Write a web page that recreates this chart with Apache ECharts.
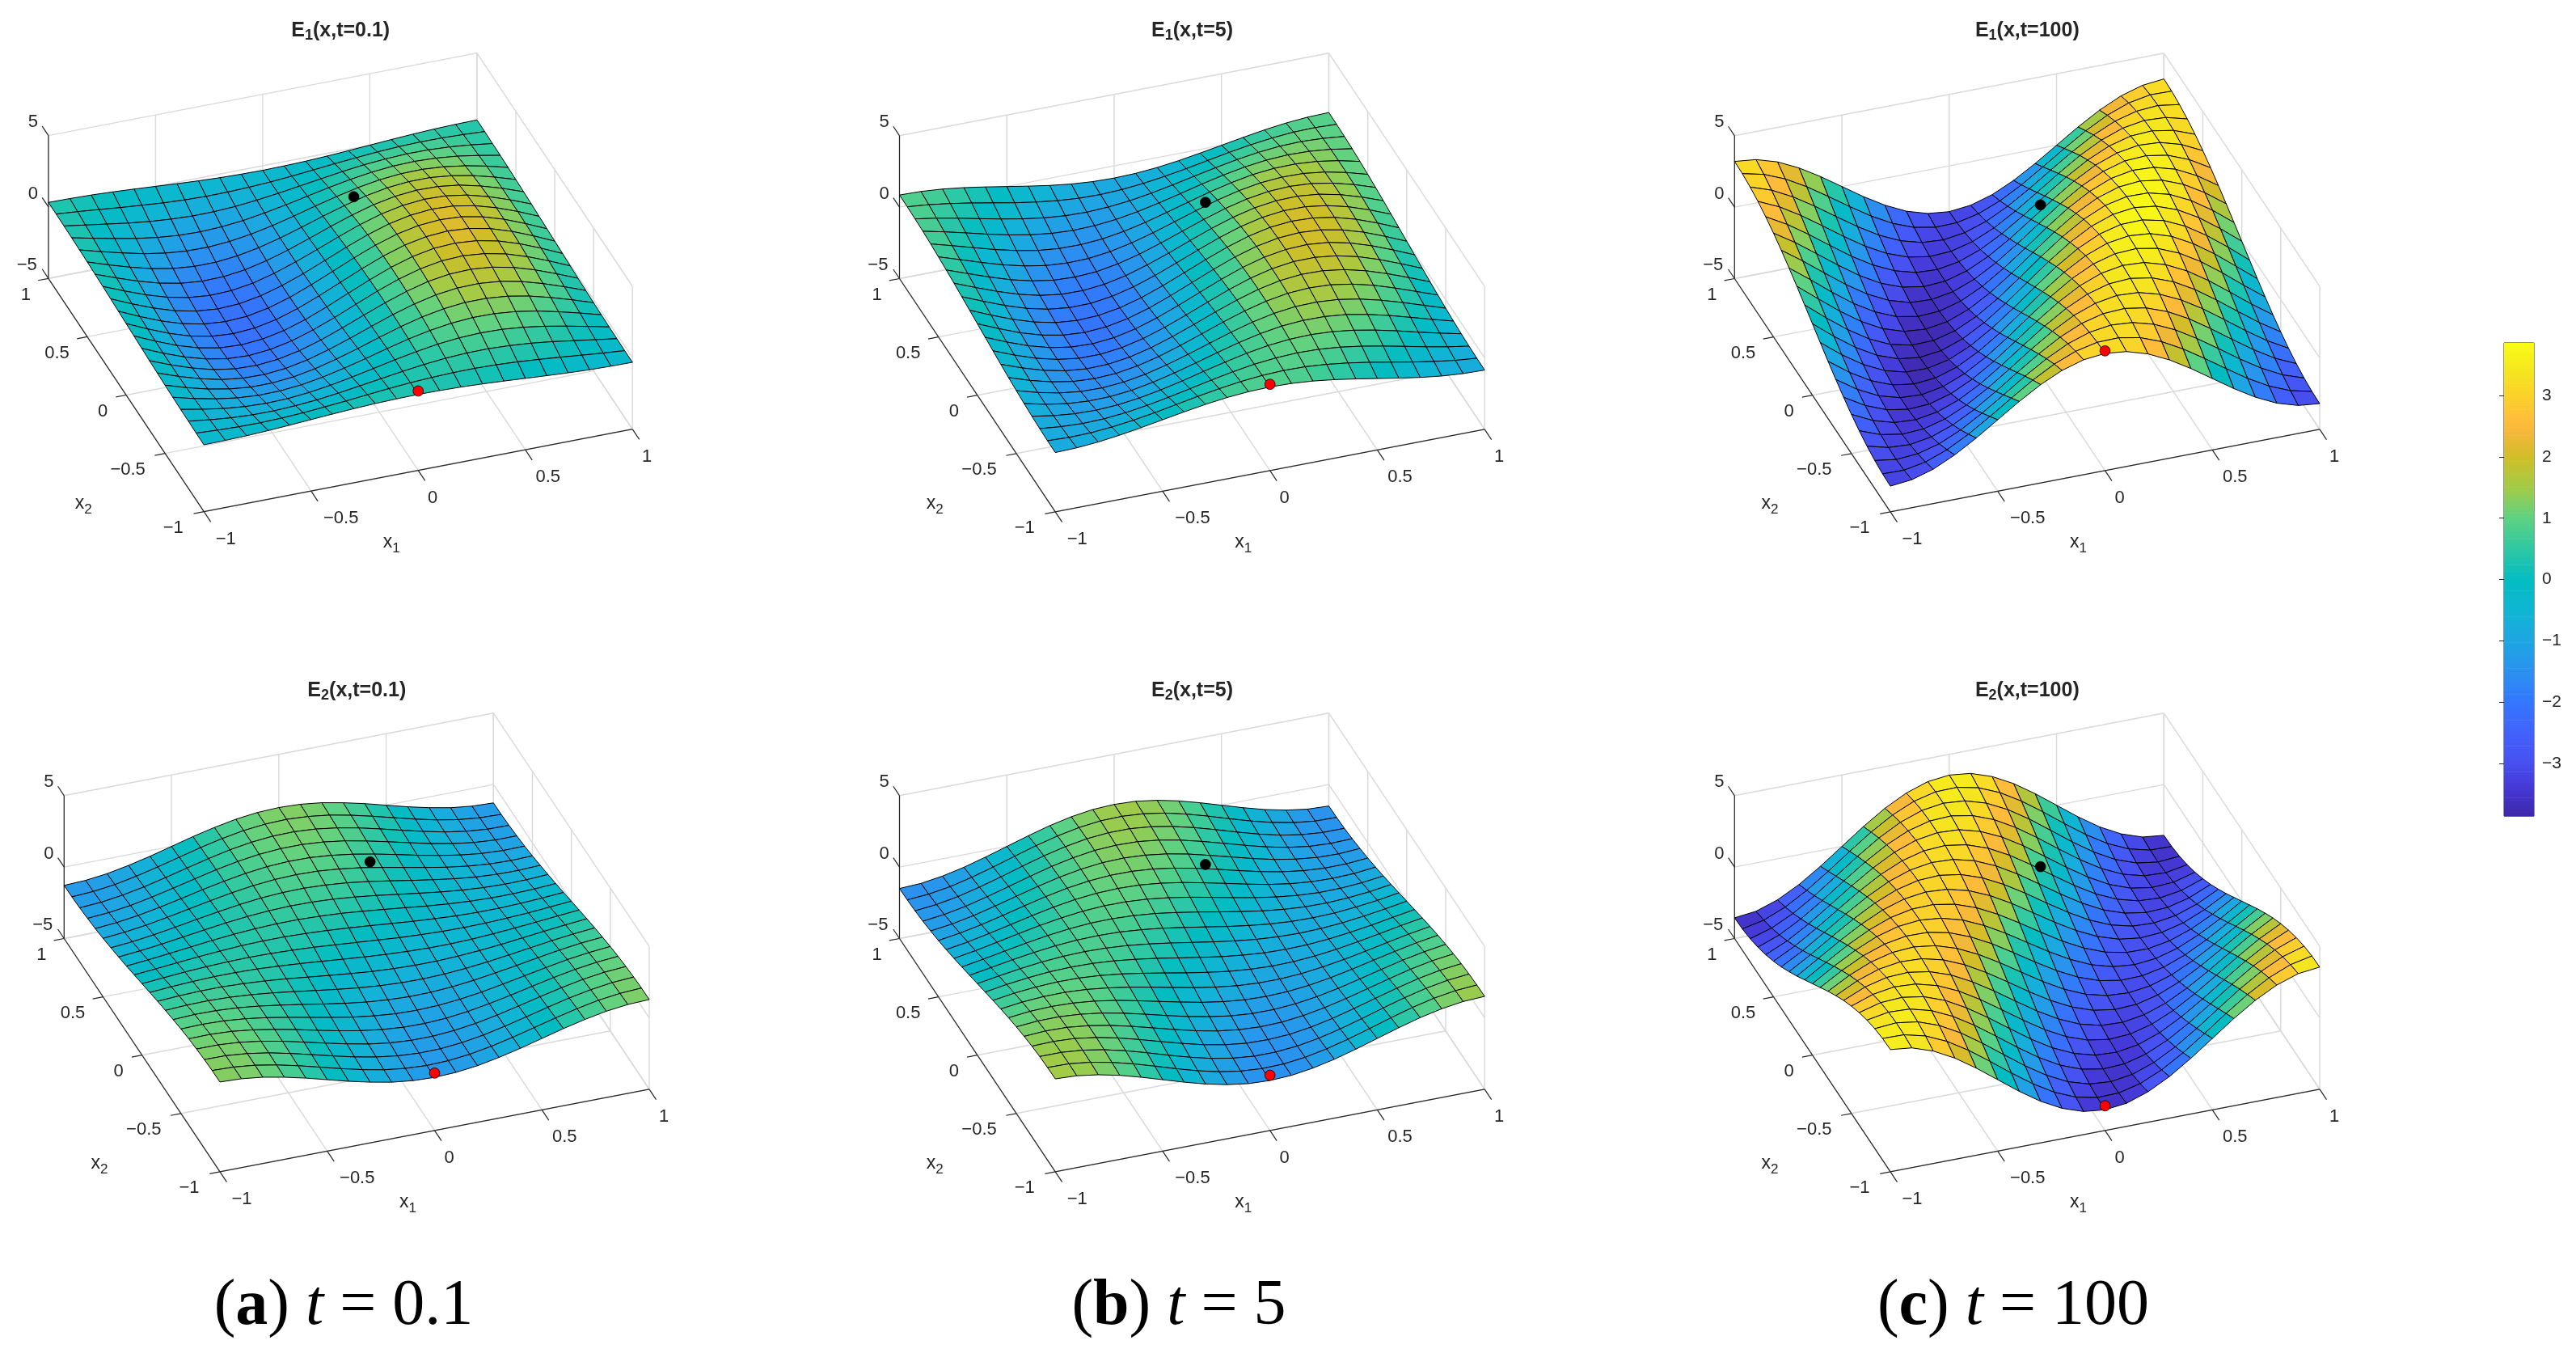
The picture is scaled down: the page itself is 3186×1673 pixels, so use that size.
<!DOCTYPE html>
<html><head><meta charset="utf-8"><style>html,body{margin:0;padding:0;background:#fff}#c{width:3186px;height:1673px}</style>
<script src="https://cdn.jsdelivr.net/npm/echarts@6/dist/echarts.min.js"></script></head><body><div id="c"></div>
<script>
const X1=[-1,-.9,-.8,-.7,-.6,-.5,-.4,-.3,-.2,-.1,0,.1,.2,.3,.4,.5,.6,.7,.8,.9,1];
const X2=[-1,-.9,-.8,-.7,-.6,-.5,-.4,-.3,-.2,-.1,0,.1,.2,.3,.4,.5,.6,.7,.8,.9,1];
const AXIS_TICKS=[-1,-.5,0,.5,1];
const Z_TICKS=[-5,0,5];
const CBAR_TICKS=[-3,-2,-1,0,1,2,3];
const TITLES=[['1','0.1'],['1','5'],['1','100'],['2','0.1'],['2','5'],['2','100']];
const BLACK_POINT=[.28,.6];
const RED_POINT=[0,-1];
const BLACK_Z=[.29,-.09,-.27,-.06,-.25,-.4];
const RED_Z=[.56,1.04,3.38,-.98,-1.13,-3.27];
const CAPTIONS=[['a','0.1'],['b','5'],['c','100']];
const E1_T01=[
[-.32,-.3,-.26,-.19,-.1,0,.1,.19,.26,.3,.32,.3,.26,.19,.1,0,-.1,-.19,-.26,-.3,-.32],
[-.32,-.4,-.45,-.46,-.42,-.34,-.22,-.09,.06,.2,.32,.4,.45,.46,.42,.34,.22,.09,-.06,-.2,-.32],
[-.3,-.49,-.64,-.72,-.73,-.66,-.54,-.36,-.14,.08,.3,.49,.64,.72,.73,.66,.54,.36,.14,-.08,-.3],
[-.29,-.57,-.81,-.96,-1.02,-.98,-.84,-.62,-.34,-.03,.29,.57,.81,.96,1.02,.98,.84,.62,.34,.03,-.29],
[-.26,-.64,-.95,-1.17,-1.28,-1.26,-1.12,-.87,-.53,-.15,.26,.64,.95,1.17,1.28,1.26,1.12,.87,.53,.15,-.26],
[-.23,-.69,-1.08,-1.36,-1.52,-1.52,-1.38,-1.1,-.71,-.26,.23,.69,1.08,1.36,1.52,1.52,1.38,1.1,.71,.26,-.23],
[-.19,-.72,-1.17,-1.52,-1.71,-1.74,-1.6,-1.3,-.87,-.36,.19,.72,1.17,1.52,1.71,1.74,1.6,1.3,.87,.36,-.19],
[-.15,-.73,-1.24,-1.64,-1.87,-1.92,-1.78,-1.47,-1.01,-.45,.15,.73,1.24,1.64,1.87,1.92,1.78,1.47,1.01,.45,-.15],
[-.1,-.73,-1.28,-1.71,-1.98,-2.05,-1.91,-1.6,-1.12,-.54,.1,.73,1.28,1.71,1.98,2.05,1.91,1.6,1.12,.54,-.1],
[-.05,-.7,-1.29,-1.75,-2.04,-2.12,-2,-1.69,-1.21,-.61,.05,.7,1.29,1.75,2.04,2.12,2,1.69,1.21,.61,-.05],
[0,-.66,-1.26,-1.74,-2.04,-2.15,-2.04,-1.74,-1.26,-.66,0,.66,1.26,1.74,2.04,2.15,2.04,1.74,1.26,.66,0],
[.05,-.61,-1.21,-1.69,-2,-2.12,-2.04,-1.75,-1.29,-.7,-.05,.61,1.21,1.69,2,2.12,2.04,1.75,1.29,.7,.05],
[.1,-.54,-1.12,-1.6,-1.91,-2.05,-1.98,-1.71,-1.28,-.73,-.1,.54,1.12,1.6,1.91,2.05,1.98,1.71,1.28,.73,.1],
[.15,-.45,-1.01,-1.47,-1.78,-1.92,-1.87,-1.64,-1.24,-.73,-.15,.45,1.01,1.47,1.78,1.92,1.87,1.64,1.24,.73,.15],
[.19,-.36,-.87,-1.3,-1.6,-1.74,-1.71,-1.52,-1.17,-.72,-.19,.36,.87,1.3,1.6,1.74,1.71,1.52,1.17,.72,.19],
[.23,-.26,-.71,-1.1,-1.38,-1.52,-1.52,-1.36,-1.08,-.69,-.23,.26,.71,1.1,1.38,1.52,1.52,1.36,1.08,.69,.23],
[.26,-.15,-.53,-.87,-1.12,-1.26,-1.28,-1.17,-.95,-.64,-.26,.15,.53,.87,1.12,1.26,1.28,1.17,.95,.64,.26],
[.29,-.03,-.34,-.62,-.84,-.98,-1.02,-.96,-.81,-.57,-.29,.03,.34,.62,.84,.98,1.02,.96,.81,.57,.29],
[.3,.08,-.14,-.36,-.54,-.66,-.73,-.72,-.64,-.49,-.3,-.08,.14,.36,.54,.66,.73,.72,.64,.49,.3],
[.32,.2,.06,-.09,-.22,-.34,-.42,-.46,-.45,-.4,-.32,-.2,-.06,.09,.22,.34,.42,.46,.45,.4,.32],
[.32,.3,.26,.19,.1,0,-.1,-.19,-.26,-.3,-.32,-.3,-.26,-.19,-.1,0,.1,.19,.26,.3,.32]];
const E1_T5=[
[-.85,-.81,-.69,-.5,-.26,0,.26,.5,.69,.81,.85,.81,.69,.5,.26,0,-.26,-.5,-.69,-.81,-.85],
[-.84,-.9,-.87,-.75,-.56,-.32,-.04,.24,.49,.7,.84,.9,.87,.75,.56,.32,.04,-.24,-.49,-.7,-.84],
[-.81,-.96,-1.03,-.99,-.85,-.63,-.35,-.04,.28,.57,.81,.96,1.03,.99,.85,.63,.35,.04,-.28,-.57,-.81],
[-.76,-1.01,-1.16,-1.2,-1.12,-.93,-.65,-.31,.07,.43,.76,1.01,1.16,1.2,1.12,.93,.65,.31,-.07,-.43,-.76],
[-.69,-1.03,-1.27,-1.38,-1.36,-1.21,-.93,-.57,-.15,.28,.69,1.03,1.27,1.38,1.36,1.21,.93,.57,.15,-.28,-.69],
[-.6,-1.02,-1.34,-1.53,-1.56,-1.45,-1.19,-.82,-.37,.12,.6,1.02,1.34,1.53,1.56,1.45,1.19,.82,.37,-.12,-.6],
[-.5,-.99,-1.38,-1.64,-1.73,-1.66,-1.42,-1.05,-.57,-.04,.5,.99,1.38,1.64,1.73,1.66,1.42,1.05,.57,.04,-.5],
[-.39,-.93,-1.39,-1.71,-1.86,-1.83,-1.62,-1.25,-.76,-.2,.39,.93,1.39,1.71,1.86,1.83,1.62,1.25,.76,.2,-.39],
[-.26,-.85,-1.36,-1.73,-1.94,-1.95,-1.77,-1.42,-.93,-.35,.26,.85,1.36,1.73,1.94,1.95,1.77,1.42,.93,.35,-.26],
[-.13,-.75,-1.3,-1.72,-1.97,-2.03,-1.89,-1.56,-1.08,-.5,.13,.75,1.3,1.72,1.97,2.03,1.89,1.56,1.08,.5,-.13],
[0,-.63,-1.21,-1.66,-1.95,-2.05,-1.95,-1.66,-1.21,-.63,0,.63,1.21,1.66,1.95,2.05,1.95,1.66,1.21,.63,0],
[.13,-.5,-1.08,-1.56,-1.89,-2.03,-1.97,-1.72,-1.3,-.75,-.13,.5,1.08,1.56,1.89,2.03,1.97,1.72,1.3,.75,.13],
[.26,-.35,-.93,-1.42,-1.77,-1.95,-1.94,-1.73,-1.36,-.85,-.26,.35,.93,1.42,1.77,1.95,1.94,1.73,1.36,.85,.26],
[.39,-.2,-.76,-1.25,-1.62,-1.83,-1.86,-1.71,-1.39,-.93,-.39,.2,.76,1.25,1.62,1.83,1.86,1.71,1.39,.93,.39],
[.5,-.04,-.57,-1.05,-1.42,-1.66,-1.73,-1.64,-1.38,-.99,-.5,.04,.57,1.05,1.42,1.66,1.73,1.64,1.38,.99,.5],
[.6,.12,-.37,-.82,-1.19,-1.45,-1.56,-1.53,-1.34,-1.02,-.6,-.12,.37,.82,1.19,1.45,1.56,1.53,1.34,1.02,.6],
[.69,.28,-.15,-.57,-.93,-1.21,-1.36,-1.38,-1.27,-1.03,-.69,-.28,.15,.57,.93,1.21,1.36,1.38,1.27,1.03,.69],
[.76,.43,.07,-.31,-.65,-.93,-1.12,-1.2,-1.16,-1.01,-.76,-.43,-.07,.31,.65,.93,1.12,1.2,1.16,1.01,.76],
[.81,.57,.28,-.04,-.35,-.63,-.85,-.99,-1.03,-.96,-.81,-.57,-.28,.04,.35,.63,.85,.99,1.03,.96,.81],
[.84,.7,.49,.24,-.04,-.32,-.56,-.75,-.87,-.9,-.84,-.7,-.49,-.24,.04,.32,.56,.75,.87,.9,.84],
[.85,.81,.69,.5,.26,0,-.26,-.5,-.69,-.81,-.85,-.81,-.69,-.5,-.26,0,.26,.5,.69,.81,.85]];
const E1_T100=[
[-3.2,-3.04,-2.59,-1.88,-.99,0,.99,1.88,2.59,3.04,3.2,3.04,2.59,1.88,.99,0,-.99,-1.88,-2.59,-3.04,-3.2],
[-3.16,-3.19,-2.91,-2.34,-1.54,-.59,.41,1.38,2.21,2.82,3.16,3.19,2.91,2.34,1.54,.59,-.41,-1.38,-2.21,-2.82,-3.16],
[-3.04,-3.26,-3.15,-2.74,-2.06,-1.17,-.18,.84,1.77,2.53,3.04,3.26,3.15,2.74,2.06,1.17,.18,-.84,-1.77,-2.53,-3.04],
[-2.85,-3.24,-3.32,-3.07,-2.52,-1.73,-.76,.28,1.29,2.18,2.85,3.24,3.32,3.07,2.52,1.73,.76,-.28,-1.29,-2.18,-2.85],
[-2.59,-3.15,-3.41,-3.33,-2.92,-2.23,-1.33,-.29,.78,1.77,2.59,3.15,3.41,3.33,2.92,2.23,1.33,.29,-.78,-1.77,-2.59],
[-2.26,-2.98,-3.41,-3.5,-3.25,-2.69,-1.86,-.84,.25,1.32,2.26,2.98,3.41,3.5,3.25,2.69,1.86,.84,-.25,-1.32,-2.26],
[-1.88,-2.74,-3.33,-3.59,-3.51,-3.07,-2.34,-1.38,-.28,.84,1.88,2.74,3.33,3.59,3.51,3.07,2.34,1.38,.28,-.84,-1.88],
[-1.45,-2.43,-3.17,-3.59,-3.67,-3.39,-2.77,-1.89,-.82,.34,1.45,2.43,3.17,3.59,3.67,3.39,2.77,1.89,.82,-.34,-1.45],
[-.99,-2.06,-2.93,-3.51,-3.74,-3.61,-3.13,-2.34,-1.33,-.18,.99,2.06,2.93,3.51,3.74,3.61,3.13,2.34,1.33,.18,-.99],
[-.5,-1.64,-2.61,-3.33,-3.72,-3.75,-3.42,-2.74,-1.8,-.69,.5,1.64,2.61,3.33,3.72,3.75,3.42,2.74,1.8,.69,-.5],
[0,-1.17,-2.23,-3.07,-3.61,-3.8,-3.61,-3.07,-2.23,-1.17,0,1.17,2.23,3.07,3.61,3.8,3.61,3.07,2.23,1.17,0],
[.5,-.69,-1.8,-2.74,-3.42,-3.75,-3.72,-3.33,-2.61,-1.64,-.5,.69,1.8,2.74,3.42,3.75,3.72,3.33,2.61,1.64,.5],
[.99,-.18,-1.33,-2.34,-3.13,-3.61,-3.74,-3.51,-2.93,-2.06,-.99,.18,1.33,2.34,3.13,3.61,3.74,3.51,2.93,2.06,.99],
[1.45,.34,-.82,-1.89,-2.77,-3.39,-3.67,-3.59,-3.17,-2.43,-1.45,-.34,.82,1.89,2.77,3.39,3.67,3.59,3.17,2.43,1.45],
[1.88,.84,-.28,-1.38,-2.34,-3.07,-3.51,-3.59,-3.33,-2.74,-1.88,-.84,.28,1.38,2.34,3.07,3.51,3.59,3.33,2.74,1.88],
[2.26,1.32,.25,-.84,-1.86,-2.69,-3.25,-3.5,-3.41,-2.98,-2.26,-1.32,-.25,.84,1.86,2.69,3.25,3.5,3.41,2.98,2.26],
[2.59,1.77,.78,-.29,-1.33,-2.23,-2.92,-3.33,-3.41,-3.15,-2.59,-1.77,-.78,.29,1.33,2.23,2.92,3.33,3.41,3.15,2.59],
[2.85,2.18,1.29,.28,-.76,-1.73,-2.52,-3.07,-3.32,-3.24,-2.85,-2.18,-1.29,-.28,.76,1.73,2.52,3.07,3.32,3.24,2.85],
[3.04,2.53,1.77,.84,-.18,-1.17,-2.06,-2.74,-3.15,-3.26,-3.04,-2.53,-1.77,-.84,.18,1.17,2.06,2.74,3.15,3.26,3.04],
[3.16,2.82,2.21,1.38,.41,-.59,-1.54,-2.34,-2.91,-3.19,-3.16,-2.82,-2.21,-1.38,-.41,.59,1.54,2.34,2.91,3.19,3.16],
[3.2,3.04,2.59,1.88,.99,0,-.99,-1.88,-2.59,-3.04,-3.2,-3.04,-2.59,-1.88,-.99,0,.99,1.88,2.59,3.04,3.2]];
const E2_T01=[
[1.28,1.22,1.04,.75,.4,0,-.4,-.75,-1.04,-1.22,-1.28,-1.22,-1.04,-.75,-.4,0,.4,.75,1.04,1.22,1.28],
[1.27,1.22,1.06,.79,.45,.06,-.33,-.69,-.99,-1.18,-1.27,-1.22,-1.06,-.79,-.45,-.06,.33,.69,.99,1.18,1.27],
[1.22,1.2,1.06,.82,.49,.12,-.26,-.62,-.91,-1.12,-1.22,-1.2,-1.06,-.82,-.49,-.12,.26,.62,.91,1.12,1.22],
[1.14,1.14,1.03,.82,.53,.18,-.18,-.52,-.82,-1.03,-1.14,-1.14,-1.03,-.82,-.53,-.18,.18,.52,.82,1.03,1.14],
[1.04,1.06,.98,.8,.54,.24,-.1,-.42,-.7,-.91,-1.04,-1.06,-.98,-.8,-.54,-.24,.1,.42,.7,.91,1.04],
[.91,.95,.9,.76,.55,.28,-.01,-.3,-.57,-.77,-.91,-.95,-.9,-.76,-.55,-.28,.01,.3,.57,.77,.91],
[.75,.82,.8,.71,.54,.32,.08,-.18,-.42,-.62,-.75,-.82,-.8,-.71,-.54,-.32,-.08,.18,.42,.62,.75],
[.58,.66,.68,.63,.52,.36,.16,-.05,-.26,-.44,-.58,-.66,-.68,-.63,-.52,-.36,-.16,.05,.26,.44,.58],
[.4,.49,.54,.54,.48,.38,.24,.07,-.1,-.26,-.4,-.49,-.54,-.54,-.48,-.38,-.24,-.07,.1,.26,.4],
[.2,.31,.39,.44,.44,.4,.31,.2,.07,-.07,-.2,-.31,-.39,-.44,-.44,-.4,-.31,-.2,-.07,.07,.2],
[0,.12,.24,.32,.38,.4,.38,.32,.24,.12,0,-.12,-.24,-.32,-.38,-.4,-.38,-.32,-.24,-.12,0],
[-.2,-.07,.07,.2,.31,.4,.44,.44,.39,.31,.2,.07,-.07,-.2,-.31,-.4,-.44,-.44,-.39,-.31,-.2],
[-.4,-.26,-.1,.07,.24,.38,.48,.54,.54,.49,.4,.26,.1,-.07,-.24,-.38,-.48,-.54,-.54,-.49,-.4],
[-.58,-.44,-.26,-.05,.16,.36,.52,.63,.68,.66,.58,.44,.26,.05,-.16,-.36,-.52,-.63,-.68,-.66,-.58],
[-.75,-.62,-.42,-.18,.08,.32,.54,.71,.8,.82,.75,.62,.42,.18,-.08,-.32,-.54,-.71,-.8,-.82,-.75],
[-.91,-.77,-.57,-.3,-.01,.28,.55,.76,.9,.95,.91,.77,.57,.3,.01,-.28,-.55,-.76,-.9,-.95,-.91],
[-1.04,-.91,-.7,-.42,-.1,.24,.54,.8,.98,1.06,1.04,.91,.7,.42,.1,-.24,-.54,-.8,-.98,-1.06,-1.04],
[-1.14,-1.03,-.82,-.52,-.18,.18,.53,.82,1.03,1.14,1.14,1.03,.82,.52,.18,-.18,-.53,-.82,-1.03,-1.14,-1.14],
[-1.22,-1.12,-.91,-.62,-.26,.12,.49,.82,1.06,1.2,1.22,1.12,.91,.62,.26,-.12,-.49,-.82,-1.06,-1.2,-1.22],
[-1.27,-1.18,-.99,-.69,-.33,.06,.45,.79,1.06,1.22,1.27,1.18,.99,.69,.33,-.06,-.45,-.79,-1.06,-1.22,-1.27],
[-1.28,-1.22,-1.04,-.75,-.4,0,.4,.75,1.04,1.22,1.28,1.22,1.04,.75,.4,0,-.4,-.75,-1.04,-1.22,-1.28]];
const E2_T5=[
[1.5,1.43,1.21,.88,.46,0,-.46,-.88,-1.21,-1.43,-1.5,-1.43,-1.21,-.88,-.46,0,.46,.88,1.21,1.43,1.5],
[1.48,1.45,1.27,.97,.58,.13,-.34,-.77,-1.13,-1.37,-1.48,-1.45,-1.27,-.97,-.58,-.13,.34,.77,1.13,1.37,1.48],
[1.43,1.43,1.3,1.04,.68,.25,-.21,-.64,-1.01,-1.28,-1.43,-1.43,-1.3,-1.04,-.68,-.25,.21,.64,1.01,1.28,1.43],
[1.34,1.38,1.3,1.08,.76,.36,-.07,-.49,-.87,-1.16,-1.34,-1.38,-1.3,-1.08,-.76,-.36,.07,.49,.87,1.16,1.34],
[1.21,1.3,1.26,1.09,.82,.47,.07,-.33,-.71,-1.01,-1.21,-1.3,-1.26,-1.09,-.82,-.47,-.07,.33,.71,1.01,1.21],
[1.06,1.18,1.19,1.08,.87,.57,.21,-.17,-.53,-.83,-1.06,-1.18,-1.19,-1.08,-.87,-.57,-.21,.17,.53,.83,1.06],
[.88,1.04,1.09,1.04,.89,.65,.34,0,-.33,-.64,-.88,-1.04,-1.09,-1.04,-.89,-.65,-.34,0,.33,.64,.88],
[.68,.87,.97,.98,.89,.71,.47,.18,-.13,-.43,-.68,-.87,-.97,-.98,-.89,-.71,-.47,-.18,.13,.43,.68],
[.46,.68,.82,.89,.87,.76,.58,.34,.07,-.21,-.46,-.68,-.82,-.89,-.87,-.76,-.58,-.34,-.07,.21,.46],
[.23,.47,.65,.78,.82,.79,.68,.5,.28,.02,-.23,-.47,-.65,-.78,-.82,-.79,-.68,-.5,-.28,-.02,.23],
[0,.25,.47,.65,.76,.8,.76,.65,.47,.25,0,-.25,-.47,-.65,-.76,-.8,-.76,-.65,-.47,-.25,0],
[-.23,.02,.28,.5,.68,.79,.82,.78,.65,.47,.23,-.02,-.28,-.5,-.68,-.79,-.82,-.78,-.65,-.47,-.23],
[-.46,-.21,.07,.34,.58,.76,.87,.89,.82,.68,.46,.21,-.07,-.34,-.58,-.76,-.87,-.89,-.82,-.68,-.46],
[-.68,-.43,-.13,.18,.47,.71,.89,.98,.97,.87,.68,.43,.13,-.18,-.47,-.71,-.89,-.98,-.97,-.87,-.68],
[-.88,-.64,-.33,0,.34,.65,.89,1.04,1.09,1.04,.88,.64,.33,0,-.34,-.65,-.89,-1.04,-1.09,-1.04,-.88],
[-1.06,-.83,-.53,-.17,.21,.57,.87,1.08,1.19,1.18,1.06,.83,.53,.17,-.21,-.57,-.87,-1.08,-1.19,-1.18,-1.06],
[-1.21,-1.01,-.71,-.33,.07,.47,.82,1.09,1.26,1.3,1.21,1.01,.71,.33,-.07,-.47,-.82,-1.09,-1.26,-1.3,-1.21],
[-1.34,-1.16,-.87,-.49,-.07,.36,.76,1.08,1.3,1.38,1.34,1.16,.87,.49,.07,-.36,-.76,-1.08,-1.3,-1.38,-1.34],
[-1.43,-1.28,-1.01,-.64,-.21,.25,.68,1.04,1.3,1.43,1.43,1.28,1.01,.64,.21,-.25,-.68,-1.04,-1.3,-1.43,-1.43],
[-1.48,-1.37,-1.13,-.77,-.34,.13,.58,.97,1.27,1.45,1.48,1.37,1.13,.77,.34,-.13,-.58,-.97,-1.27,-1.45,-1.48],
[-1.5,-1.43,-1.21,-.88,-.46,0,.46,.88,1.21,1.43,1.5,1.43,1.21,.88,.46,0,-.46,-.88,-1.21,-1.43,-1.5]];
const E2_T100=[
[3.55,3.38,2.87,2.09,1.1,0,-1.1,-2.09,-2.87,-3.38,-3.55,-3.38,-2.87,-2.09,-1.1,0,1.1,2.09,2.87,3.38,3.55],
[3.51,3.48,3.11,2.44,1.53,.47,-.64,-1.68,-2.56,-3.19,-3.51,-3.48,-3.11,-2.44,-1.53,-.47,.64,1.68,2.56,3.19,3.51],
[3.38,3.5,3.28,2.74,1.93,.93,-.16,-1.24,-2.19,-2.93,-3.38,-3.5,-3.28,-2.74,-1.93,-.93,.16,1.24,2.19,2.93,3.38],
[3.16,3.43,3.36,2.96,2.27,1.36,.32,-.76,-1.76,-2.59,-3.16,-3.43,-3.36,-2.96,-2.27,-1.36,-.32,.76,1.76,2.59,3.16],
[2.87,3.28,3.36,3.12,2.57,1.76,.79,-.26,-1.29,-2.19,-2.87,-3.28,-3.36,-3.12,-2.57,-1.76,-.79,.26,1.29,2.19,2.87],
[2.51,3.04,3.28,3.19,2.79,2.12,1.24,.24,-.78,-1.73,-2.51,-3.04,-3.28,-3.19,-2.79,-2.12,-1.24,-.24,.78,1.73,2.51],
[2.09,2.74,3.12,3.19,2.95,2.43,1.66,.74,-.26,-1.24,-2.09,-2.74,-3.12,-3.19,-2.95,-2.43,-1.66,-.74,.26,1.24,2.09],
[1.61,2.36,2.88,3.11,3.04,2.67,2.04,1.21,.27,-.71,-1.61,-2.36,-2.88,-3.11,-3.04,-2.67,-2.04,-1.21,-.27,.71,1.61],
[1.1,1.93,2.57,2.95,3.05,2.85,2.37,1.66,.79,-.16,-1.1,-1.93,-2.57,-2.95,-3.05,-2.85,-2.37,-1.66,-.79,.16,1.1],
[.55,1.44,2.19,2.72,2.99,2.96,2.65,2.07,1.3,.39,-.55,-1.44,-2.19,-2.72,-2.99,-2.96,-2.65,-2.07,-1.3,-.39,.55],
[0,.93,1.76,2.43,2.85,3,2.85,2.43,1.76,.93,0,-.93,-1.76,-2.43,-2.85,-3,-2.85,-2.43,-1.76,-.93,0],
[-.55,.39,1.3,2.07,2.65,2.96,2.99,2.72,2.19,1.44,.55,-.39,-1.3,-2.07,-2.65,-2.96,-2.99,-2.72,-2.19,-1.44,-.55],
[-1.1,-.16,.79,1.66,2.37,2.85,3.05,2.95,2.57,1.93,1.1,.16,-.79,-1.66,-2.37,-2.85,-3.05,-2.95,-2.57,-1.93,-1.1],
[-1.61,-.71,.27,1.21,2.04,2.67,3.04,3.11,2.88,2.36,1.61,.71,-.27,-1.21,-2.04,-2.67,-3.04,-3.11,-2.88,-2.36,-1.61],
[-2.09,-1.24,-.26,.74,1.66,2.43,2.95,3.19,3.12,2.74,2.09,1.24,.26,-.74,-1.66,-2.43,-2.95,-3.19,-3.12,-2.74,-2.09],
[-2.51,-1.73,-.78,.24,1.24,2.12,2.79,3.19,3.28,3.04,2.51,1.73,.78,-.24,-1.24,-2.12,-2.79,-3.19,-3.28,-3.04,-2.51],
[-2.87,-2.19,-1.29,-.26,.79,1.76,2.57,3.12,3.36,3.28,2.87,2.19,1.29,.26,-.79,-1.76,-2.57,-3.12,-3.36,-3.28,-2.87],
[-3.16,-2.59,-1.76,-.76,.32,1.36,2.27,2.96,3.36,3.43,3.16,2.59,1.76,.76,-.32,-1.36,-2.27,-2.96,-3.36,-3.43,-3.16],
[-3.38,-2.93,-2.19,-1.24,-.16,.93,1.93,2.74,3.28,3.5,3.38,2.93,2.19,1.24,.16,-.93,-1.93,-2.74,-3.28,-3.5,-3.38],
[-3.51,-3.19,-2.56,-1.68,-.64,.47,1.53,2.44,3.11,3.48,3.51,3.19,2.56,1.68,.64,-.47,-1.53,-2.44,-3.11,-3.48,-3.51],
[-3.55,-3.38,-2.87,-2.09,-1.1,0,1.1,2.09,2.87,3.38,3.55,3.38,2.87,2.09,1.1,0,-1.1,-2.09,-2.87,-3.38,-3.55]];
const SURFACES=[E1_T01,E1_T5,E1_T100,E2_T01,E2_T5,E2_T100];

// ---- style & layout ----
const SANS='"Liberation Sans",Arial,sans-serif', SERIF='"Liberation Serif",serif';
const INK='#262626', GRIDC='#d9d9d9';
const ANCHORS=[[58.3,344.3],[1112.5,344.5],[2145.3,344.5],[79.3,1160.5],[1112.5,1160.5],[2145.3,1160.5]];
const AX={u:265.5,v:-51},BX={u:-96.35,v:-144.2},CZ={u:0,v:-17.67};
const PAD_L=60,PAD_T=344,GW=900,GH=720;
const project=(a,b,c)=>[(a+1)*AX.u+(b-1)*BX.u+(c+5)*CZ.u,(a+1)*AX.v+(b-1)*BX.v+(c+5)*CZ.v];
const STOPS=[[-3.86,[62,38,168]],[-3.4,[69,56,214]],[-3,[71,80,240]],[-2.5,[66,98,253]],[-2,[51,119,254]],[-1.5,[43,145,239]],[-1,[30,166,226]],[-.5,[15,182,211]],[0,[3,188,194]],[.5,[46,200,164]],[1,[94,210,131]],[1.5,[162,203,71]],[2,[207,190,39]],[2.4,[245,184,58]],[2.6,[255,188,58]],[3,[250,210,42]],[3.4,[245,230,31]],[3.86,[249,251,21]]];
function colorOf(z){
  if(z<=STOPS[0][0])return `rgb(${STOPS[0][1]})`;
  for(let k=1;k<STOPS.length;k++){if(z<=STOPS[k][0]){const[a,ca]=STOPS[k-1],[b,cb]=STOPS[k],t=(z-a)/(b-a);
    return `rgb(${ca.map((v,n)=>Math.round(v+(cb[n]-v)*t)).join(',')})`;}}
  return `rgb(${STOPS[STOPS.length-1][1]})`;
}
const fmt=v=>String(v).replace('-','\u2212');
const X1_LBL_DX=[27,37,18,28,18],X2_LBL_DX=[-38,-46,-29,-37.5,-28],Z_LBL_DX=[-26.6,-19,-19];

const frameRows=[];
AXIS_TICKS.forEach(t=>{
  frameRows.push([t,-1,-5,t,1,-5,0],[-1,t,-5,1,t,-5,0]);
  frameRows.push([t,1,-5,t,1,5,0],[1,t,-5,1,t,5,0]);
  frameRows.push([t,-1,-5,t,-1.088,-5,1],[-1,t,-5,-1.048,t,-5,1]);
});
Z_TICKS.forEach(z=>{frameRows.push([-1,1,z,1,1,z,0],[1,-1,z,1,1,z,0],[-1,1,z,-1,1.08,z,1]);});
frameRows.push([-1,-1,-5,1,-1,-5,1],[-1,-1,-5,-1,1,-5,1],[-1,1,-5,-1,1,5,1]);

const tickText=[];
AXIS_TICKS.forEach((t,k)=>{
  tickText.push([t,-1,-5,X1_LBL_DX[k],34,fmt(t)]);
  tickText.push([-1,t,-5,X2_LBL_DX[k],20.5,fmt(t)]);
});
Z_TICKS.forEach((z,k)=>tickText.push([-1,1,z,Z_LBL_DX[k],-16.5,fmt(z)]));

const grid=[],xAxis=[],yAxis=[],series=[];
ANCHORS.forEach((p,n)=>{
  grid.push({left:p[0]-PAD_L,top:p[1]-PAD_T,width:GW,height:GH,show:false});
  xAxis.push({type:'value',gridIndex:n,min:-PAD_L,max:GW-PAD_L,show:false});
  yAxis.push({type:'value',gridIndex:n,min:-PAD_T,max:GH-PAD_T,inverse:true,show:false});
  const base={type:'custom',xAxisIndex:n,yAxisIndex:n,silent:true,clip:false,animation:false,progressive:0};
  series.push({...base,z:1,data:frameRows,renderItem:(q,api)=>{
    const a=api.coord(project(api.value(0),api.value(1),api.value(2))),b=api.coord(project(api.value(3),api.value(4),api.value(5))),ax=api.value(6);
    return {type:'line',shape:{x1:a[0],y1:a[1],x2:b[0],y2:b[1]},style:{stroke:ax?INK:GRIDC,lineWidth:ax?1.2:1.4}};
  }});
  const Z=SURFACES[n],cells=[];
  for(let j=X2.length-2;j>=0;j--)for(let i=X1.length-2;i>=0;i--)
    cells.push([X1[i],X1[i+1],X2[j],X2[j+1],Z[j][i],Z[j][i+1],Z[j+1][i+1],Z[j+1][i]]);
  series.push({...base,z:2,data:cells,renderItem:(q,api)=>{
    const x0=api.value(0),x1=api.value(1),y0=api.value(2),y1=api.value(3);
    const pts=[[x0,y0,4],[x1,y0,5],[x1,y1,6],[x0,y1,7]].map(r=>api.coord(project(r[0],r[1],api.value(r[2]))));
    return {type:'polygon',shape:{points:pts},style:{fill:colorOf(api.value(4)),stroke:'#000',lineWidth:1}};
  }});
  series.push({...base,z:3,data:[[BLACK_POINT[0],BLACK_POINT[1],BLACK_Z[n],0],[RED_POINT[0],RED_POINT[1],RED_Z[n],1]],renderItem:(q,api)=>{
    const c=api.coord(project(api.value(0),api.value(1),api.value(2)));
    return {type:'circle',shape:{cx:c[0],cy:c[1],r:6.4},style:{fill:api.value(3)?'#f00':'#000',stroke:'#000',lineWidth:.8}};
  }});
  series.push({...base,z:4,data:tickText.map(r=>r.slice(0,5)),renderItem:(q,api)=>{
    const c=api.coord(project(api.value(0),api.value(1),api.value(2)));
    return {type:'text',x:c[0]+api.value(3),y:c[1]+api.value(4),style:{text:tickText[q.dataIndex][5],fontFamily:SANS,fontSize:22,fill:INK,align:'center',verticalAlign:'middle'}};
  }});
  const lab=(t,s)=>`{m|${t}}{s|${s}}`;
  const rich={m:{fontFamily:SANS,fontSize:23,fill:INK,lineHeight:32},s:{fontFamily:SANS,fontSize:17,fill:INK,lineHeight:18,verticalAlign:'bottom'}};
  series.push({...base,z:4,data:[[0,-1,-5,-33,89,0],[-1,-1,-5,-149,-10,1]],renderItem:(q,api)=>{
    const c=api.coord(project(api.value(0),api.value(1),api.value(2)));
    return {type:'text',x:c[0]+api.value(3),y:c[1]+api.value(4),style:{text:lab('x',api.value(5)?'2':'1'),rich,align:'center',verticalAlign:'middle'}};
  }});
  const tr={t:{fontFamily:SANS,fontWeight:'bold',fontSize:25,fill:INK,lineHeight:30},u:{fontFamily:SANS,fontWeight:'bold',fontSize:18,fill:INK,lineHeight:16,verticalAlign:'bottom'}};
  series.push({...base,z:4,data:[[0,1,5,0,0]],renderItem:(q,api)=>{
    const c=api.coord([362,-306]);
    return {type:'text',x:c[0],y:c[1],style:{text:`{t|E}{u|${TITLES[n][0]}}{t|(x,t=${TITLES[n][1]})}`,rich:tr,align:'center',verticalAlign:'middle'}};
  }});
});
// colour bar
const CB=6,CB_MIN=-3.86,CB_MAX=3.86;
grid.push({left:3097,top:424,width:37,height:585,show:true,borderColor:INK,borderWidth:1,backgroundColor:'transparent'});
xAxis.push({type:'value',gridIndex:CB,min:0,max:1,show:false});
yAxis.push({type:'value',gridIndex:CB,min:CB_MIN,max:CB_MAX,position:'right',axisLine:{show:true,lineStyle:{color:'#777',width:1}},splitLine:{show:false},
  axisTick:{show:true,inside:true,length:6,customValues:CBAR_TICKS,lineStyle:{color:INK,width:1}},
  axisLabel:{show:true,customValues:CBAR_TICKS,margin:10,fontFamily:SANS,fontSize:21,color:INK,formatter:v=>fmt(v)}});
const levels=[];for(let k=0;k<128;k++)levels.push([0,CB_MIN+(CB_MAX-CB_MIN)*k/128,CB_MIN+(CB_MAX-CB_MIN)*(k+1)/128]);
series.push({type:'custom',xAxisIndex:CB,yAxisIndex:CB,silent:true,animation:false,z:1,data:levels,encode:{x:0,y:1},renderItem:(q,api)=>{
  const a=api.coord([0,api.value(1)]),b=api.coord([1,api.value(2)]);
  return {type:'rect',shape:{x:a[0],y:b[1],width:b[0]-a[0],height:a[1]-b[1]+.6},style:{fill:colorOf((api.value(1)+api.value(2))/2)}};
}});
const capRich={p:{fontFamily:SERIF,fontSize:80,fill:'#000'},b:{fontFamily:SERIF,fontSize:80,fontWeight:'bold',fill:'#000'},i:{fontFamily:SERIF,fontSize:80,fontStyle:'italic',fill:'#000'}};
const CAP_X=[425,1458,2490];
const graphic=CAPTIONS.map((c,k)=>({type:'text',x:CAP_X[k],y:1616,style:{text:`{p|(}{b|${c[0]}}{p|) }{i|t}{p| = ${c[1]}}`,rich:capRich,align:'center',verticalAlign:'middle'}}));
const chart=echarts.init(document.getElementById('c'),null,{width:3186,height:1673});
chart.setOption({backgroundColor:'#fff',animation:false,grid,xAxis,yAxis,series,graphic});
</script></body></html>
